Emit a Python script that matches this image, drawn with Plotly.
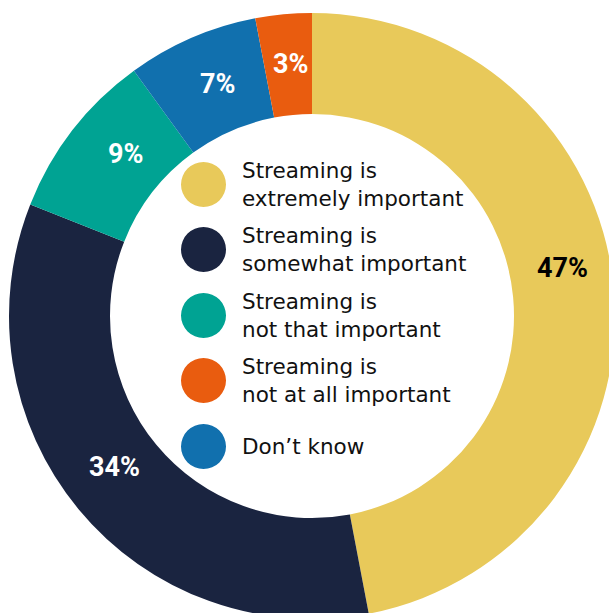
import plotly.graph_objects as go

# Survey answers, in clockwise order from 12 o'clock
categories = [
    "Streaming is<br>extremely important",
    "Streaming is<br>somewhat important",
    "Streaming is<br>not that important",
    "Don’t know",
    "Streaming is<br>not at all important",
]
shares = [47, 34, 9, 7, 3]
colors = ["#E8C95A", "#1A2440", "#00A393", "#1170AE", "#E95C0F"]
label_colors = ["#000000", "#FFFFFF", "#FFFFFF", "#FFFFFF", "#FFFFFF"]

# Legend order shown in the hole
legend_order = [0, 1, 2, 4, 3]

# The ring runs slightly past the right and bottom edges of the view,
# so the figure is a few pixels larger than the window and the overflow is hidden.
W, H = 616, 620
CX, CY, R_OUT, R_IN = 312, 316, 303, 202

fig = go.Figure()
fig.add_trace(go.Pie(
    labels=categories,
    values=shares,
    sort=False,
    direction="clockwise",
    rotation=0,
    hole=R_IN / R_OUT,
    marker=dict(colors=colors, line=dict(width=0)),
    textinfo="none",
    hoverinfo="label+percent",
    showlegend=False,
    domain=dict(x=[(CX - R_OUT) / W, (CX + R_OUT) / W],
                y=[1 - (CY + R_OUT) / H, 1 - (CY - R_OUT) / H]),
))

# Percentage labels placed on the ring (pixel positions)
label_pos = [(562, 268), (114, 467), (125, 154), (217, 84), (290, 64)]
annotations = []
for v, (px, py), c in zip(shares, label_pos, label_colors):
    annotations.append(dict(
        x=px / W, y=1 - py / H, xref="paper", yref="paper",
        text=f"<b>{v}%</b>", showarrow=False,
        xanchor="center", yanchor="middle",
        font=dict(family="Roboto", size=27, color=c),
    ))

# Legend drawn inside the hole: circles plus two-line labels
shapes = []
legend_y = [184.5, 249.5, 315.5, 380.5, 446.5]
dot_x, dot_r, text_x = 203.5, 22.5, 240
for idx, ly in zip(legend_order, legend_y):
    shapes.append(dict(
        type="circle", xref="paper", yref="paper",
        x0=(dot_x - dot_r) / W, x1=(dot_x + dot_r) / W,
        y0=1 - (ly + dot_r) / H, y1=1 - (ly - dot_r) / H,
        fillcolor=colors[idx], line=dict(width=0),
    ))
    annotations.append(dict(
        x=text_x / W, y=1 - ly / H, xref="paper", yref="paper",
        text=categories[idx], showarrow=False, align="left",
        xanchor="left", yanchor="middle",
        font=dict(family="DejaVu Sans", size=21.5, color="#111111"),
    ))

fig.update_layout(
    width=W, height=H,
    margin=dict(l=0, r=0, t=0, b=0),
    paper_bgcolor="white",
    plot_bgcolor="white",
    shapes=shapes,
    annotations=annotations,
)

fig.write_html(
    "out.html",
    post_script="document.documentElement.style.overflow='hidden';"
                "document.body.style.overflow='hidden';",
)
